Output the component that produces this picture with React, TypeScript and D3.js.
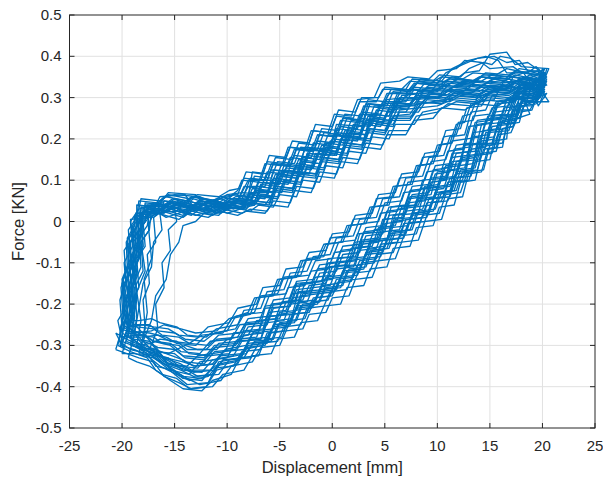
import { useMemo } from 'react';
import * as d3 from 'd3';

// Force–displacement hysteresis, cycles (x in mm, y in KN), flat [x,y,x,y,...]
const cycle1 = [-20.0,-0.27, -19.4,-0.20, -19.6,-0.14, -18.9,-0.09, -19.0,-0.03, -18.3,0.0, -18.2,0.035, -16.4,0.03, -15.6,0.045, -13.6,0.03, -12.8,0.045, -10.8,0.035, -9.8,0.05, -8.2,0.045, -7.6,0.08, -6.0,0.075, -5.4,0.115, -3.8,0.11, -3.2,0.15, -1.6,0.145, -1.0,0.185, 0.6,0.18, 1.2,0.22, 2.8,0.215, 3.4,0.255, 5.0,0.25, 5.6,0.285, 7.4,0.285, 8.2,0.315, 10.4,0.31, 11.4,0.325, 13.6,0.32, 14.6,0.335, 16.8,0.33, 17.8,0.345, 20.0,0.335,
  19.2,0.31, 17.6,0.31, 17.0,0.27, 15.4,0.265, 14.8,0.22, 13.4,0.215, 12.8,0.15, 11.4,0.145, 10.8,0.10, 9.4,0.095, 8.8,0.05, 7.2,0.045, 6.6,0.0, 5.0,-0.005, 4.4,-0.05, 2.8,-0.055, 2.2,-0.095, 0.6,-0.10, 0.0,-0.14, -1.6,-0.145, -2.2,-0.18, -3.8,-0.185, -4.4,-0.225, -6.0,-0.23, -6.6,-0.27, -8.4,-0.275, -9.2,-0.31, -11.2,-0.315, -12.2,-0.345, -14.0,-0.34, -15.0,-0.32, -16.6,-0.315, -17.4,-0.29, -19.0,-0.285, -20.0,-0.27];
const cycle2 = [-19.5,-0.25, -19.0,-0.19, -19.2,-0.12, -18.5,-0.07, -18.6,-0.01, -17.9,0.02, -17.8,0.045, -16.0,0.04, -15.2,0.055, -13.2,0.04, -12.4,0.055, -10.4,0.045, -9.4,0.065, -8.0,0.06, -7.6,0.12, -6.0,0.115, -5.4,0.155, -3.8,0.15, -3.2,0.19, -1.6,0.185, -1.0,0.225, 0.6,0.22, 1.2,0.26, 2.8,0.255, 3.4,0.295, 5.0,0.29, 5.6,0.32, 7.4,0.315, 8.2,0.34, 10.4,0.335, 11.4,0.35, 13.6,0.34, 14.6,0.36, 16.8,0.355, 17.8,0.37, 20.3,0.36,
  19.6,0.33, 18.0,0.335, 17.4,0.295, 15.8,0.29, 15.2,0.25, 13.8,0.245, 13.2,0.19, 11.8,0.185, 11.2,0.14, 9.8,0.135, 9.2,0.09, 7.6,0.085, 7.0,0.04, 5.4,0.035, 4.8,-0.01, 3.2,-0.015, 2.6,-0.055, 1.0,-0.06, 0.4,-0.10, -1.2,-0.105, -1.8,-0.14, -3.4,-0.145, -4.0,-0.185, -5.6,-0.19, -6.2,-0.23, -8.0,-0.235, -8.8,-0.27, -10.8,-0.275, -11.8,-0.30, -13.6,-0.295, -14.6,-0.28, -16.2,-0.275, -17.0,-0.26, -18.6,-0.255, -19.5,-0.25];
const cycle3 = [-20.3,-0.29, -19.8,-0.22, -20.0,-0.15, -19.4,-0.10, -19.5,-0.04, -18.8,-0.01, -18.7,0.02, -17.0,0.015, -16.2,0.03, -14.2,0.015, -13.4,0.03, -11.4,0.02, -10.4,0.035, -8.6,0.03, -8.0,0.045, -6.4,0.04, -5.4,0.075, -3.8,0.07, -3.2,0.11, -1.6,0.105, -1.0,0.145, 0.6,0.14, 1.2,0.18, 2.8,0.175, 3.4,0.215, 5.0,0.21, 5.6,0.245, 7.4,0.245, 8.2,0.275, 10.0,0.28, 11.4,0.295, 13.6,0.29, 14.6,0.305, 16.8,0.30, 17.8,0.315, 19.8,0.305,
  19.0,0.28, 17.4,0.28, 16.8,0.235, 15.2,0.23, 14.6,0.18, 13.2,0.175, 12.6,0.11, 11.2,0.105, 10.6,0.06, 9.2,0.055, 8.6,0.01, 7.0,0.005, 6.4,-0.04, 4.8,-0.045, 4.2,-0.09, 2.6,-0.095, 2.0,-0.135, 0.4,-0.14, -0.2,-0.18, -1.8,-0.185, -2.4,-0.22, -4.0,-0.225, -4.6,-0.265, -6.2,-0.27, -6.8,-0.31, -8.6,-0.315, -9.4,-0.35, -11.4,-0.355, -12.4,-0.385, -14.2,-0.38, -15.2,-0.36, -16.8,-0.35, -17.6,-0.32, -19.2,-0.31, -20.3,-0.29];
const cycle4 = [-18.6,-0.30, -18.2,-0.24, -18.6,-0.17, -17.8,-0.12, -18.2,-0.05, -17.4,-0.02, -17.6,0.03, -15.6,0.025, -14.8,0.04, -12.8,0.03, -12.0,0.045, -10.0,0.03, -9.0,0.05, -7.4,0.045, -6.8,0.09, -5.2,0.085, -4.6,0.125, -3.0,0.12, -2.4,0.16, -0.8,0.155, -0.2,0.195, 1.4,0.19, 2.0,0.235, 3.6,0.23, 4.2,0.27, 5.8,0.265, 6.4,0.30, 8.2,0.30, 9.0,0.325, 11.2,0.32, 12.2,0.335, 14.4,0.33, 15.4,0.345, 17.6,0.335, 18.6,0.35, 20.4,0.34,
  19.8,0.30, 18.4,0.29, 17.8,0.25, 16.2,0.245, 15.6,0.19, 14.2,0.185, 13.6,0.13, 12.2,0.125, 11.6,0.075, 10.2,0.07, 9.6,0.025, 8.0,0.02, 7.4,-0.02, 5.8,-0.025, 5.2,-0.065, 3.6,-0.07, 3.0,-0.115, 1.4,-0.12, 0.8,-0.16, -0.8,-0.165, -1.4,-0.20, -3.0,-0.205, -3.6,-0.245, -5.2,-0.25, -5.8,-0.29, -7.6,-0.295, -8.4,-0.33, -10.4,-0.335, -11.4,-0.37, -13.2,-0.375, -14.4,-0.36, -16.0,-0.345, -16.8,-0.325, -18.6,-0.30];
const cycle5 = [-19.8,-0.26, -19.3,-0.19, -19.5,-0.12, -18.8,-0.07, -19.0,-0.01, -18.2,0.01, -18.0,0.025, -16.2,0.02, -15.4,0.03, -13.4,0.015, -12.6,0.03, -10.6,0.02, -9.6,0.035, -7.8,0.025, -7.0,0.04, -5.6,0.035, -5.0,0.065, -3.4,0.06, -2.8,0.10, -1.2,0.095, -0.6,0.135, 1.0,0.13, 1.6,0.17, 3.2,0.165, 3.8,0.205, 5.4,0.20, 6.0,0.235, 7.8,0.235, 8.6,0.265, 10.6,0.275, 11.8,0.29, 13.8,0.285, 14.8,0.30, 17.0,0.295, 18.0,0.31, 19.6,0.30,
  19.2,0.32, 17.8,0.33, 17.2,0.30, 15.6,0.29, 15.0,0.26, 13.4,0.255, 12.8,0.20, 11.4,0.195, 10.8,0.15, 9.4,0.145, 8.8,0.10, 7.2,0.095, 6.6,0.05, 5.0,0.045, 4.4,0.0, 2.8,-0.005, 2.2,-0.045, 0.6,-0.05, 0.0,-0.09, -1.6,-0.095, -2.2,-0.13, -3.8,-0.135, -4.4,-0.175, -6.0,-0.18, -6.6,-0.22, -8.4,-0.225, -9.2,-0.26, -11.2,-0.27, -12.2,-0.29, -14.0,-0.285, -15.0,-0.27, -16.6,-0.265, -17.4,-0.25, -19.0,-0.25, -19.8,-0.26];
const cycle6 = [-20.2,-0.28, -19.8,-0.21, -20.0,-0.14, -19.2,-0.09, -19.4,-0.02, -18.6,0.01, -18.4,0.05, -16.6,0.045, -15.8,0.06, -13.8,0.05, -13.0,0.06, -11.0,0.05, -10.0,0.065, -8.6,0.07, -8.0,0.10, -6.4,0.10, -5.8,0.14, -4.2,0.135, -3.6,0.175, -2.0,0.17, -1.4,0.21, 0.2,0.205, 0.8,0.245, 2.4,0.24, 3.0,0.28, 4.6,0.275, 5.2,0.31, 7.0,0.31, 7.8,0.335, 9.8,0.33, 10.8,0.36, 12.4,0.38, 13.8,0.395, 15.4,0.40, 16.6,0.385, 17.8,0.39, 18.6,0.365, 20.0,0.355,
  19.4,0.32, 18.0,0.325, 17.4,0.29, 15.8,0.285, 15.2,0.24, 13.8,0.235, 13.2,0.17, 11.8,0.165, 11.2,0.12, 9.8,0.115, 9.2,0.07, 7.6,0.065, 7.0,0.02, 5.4,0.015, 4.8,-0.03, 3.2,-0.035, 2.6,-0.075, 1.0,-0.08, 0.4,-0.12, -1.2,-0.125, -1.8,-0.16, -3.4,-0.165, -4.0,-0.205, -5.6,-0.21, -6.2,-0.25, -8.0,-0.255, -8.8,-0.29, -10.8,-0.295, -11.8,-0.325, -13.6,-0.32, -14.6,-0.30, -16.2,-0.295, -17.0,-0.28, -18.6,-0.275, -20.2,-0.28];
const cycle7 = [-19.2,-0.30, -18.8,-0.23, -19.0,-0.16, -18.2,-0.11, -18.4,-0.04, -17.6,-0.01, -17.4,0.02, -16.2,0.05, -15.6,0.07, -13.0,0.065, -12.2,0.04, -10.2,0.03, -9.2,0.045, -7.4,0.04, -6.8,0.06, -5.2,0.055, -4.6,0.095, -3.0,0.09, -2.4,0.13, -0.8,0.125, -0.2,0.165, 1.4,0.16, 2.0,0.20, 3.6,0.195, 4.2,0.235, 5.8,0.23, 6.4,0.265, 8.2,0.265, 9.0,0.295, 11.2,0.29, 12.2,0.305, 14.4,0.30, 15.4,0.315, 17.6,0.31, 18.6,0.325, 20.2,0.315,
  19.8,0.29, 18.4,0.29, 17.8,0.25, 16.2,0.245, 15.6,0.20, 14.2,0.195, 13.6,0.155, 12.2,0.15, 11.6,0.105, 10.2,0.10, 9.6,0.055, 8.0,0.05, 7.4,0.005, 5.8,0.0, 5.2,-0.045, 3.6,-0.05, 3.0,-0.09, 1.4,-0.095, 0.8,-0.135, -0.8,-0.14, -1.4,-0.175, -3.0,-0.18, -3.6,-0.22, -5.2,-0.225, -5.8,-0.265, -7.6,-0.27, -8.4,-0.31, -10.4,-0.315, -11.4,-0.345, -13.2,-0.35, -14.2,-0.335, -15.8,-0.32, -16.8,-0.31, -18.2,-0.305, -19.2,-0.30];
const cycle8 = [-19.0,-0.24, -18.6,-0.17, -18.8,-0.11, -18.0,-0.06, -18.2,0.0, -17.4,0.02, -17.2,0.04, -15.4,0.035, -14.6,0.05, -12.6,0.035, -11.8,0.05, -9.8,0.04, -8.8,0.055, -7.2,0.05, -6.6,0.095, -5.0,0.09, -4.4,0.13, -2.8,0.125, -2.2,0.165, -0.6,0.16, 0.0,0.20, 1.6,0.195, 2.2,0.24, 3.8,0.235, 4.4,0.275, 6.0,0.27, 6.6,0.305, 8.4,0.31, 9.2,0.33, 11.4,0.325, 12.4,0.34, 14.6,0.335, 15.6,0.35, 17.8,0.34, 18.8,0.355, 19.8,0.345,
  19.0,0.335, 17.4,0.34, 16.8,0.31, 15.2,0.305, 14.6,0.27, 13.2,0.265, 12.6,0.21, 11.2,0.205, 10.6,0.16, 9.2,0.155, 8.6,0.11, 7.0,0.105, 6.4,0.06, 4.8,0.055, 4.2,0.01, 2.6,0.005, 2.0,-0.035, 0.4,-0.04, -0.2,-0.08, -1.8,-0.085, -2.4,-0.12, -4.0,-0.125, -4.6,-0.165, -6.2,-0.17, -6.8,-0.21, -8.4,-0.215, -9.0,-0.25, -11.0,-0.26, -12.0,-0.28, -13.8,-0.275, -14.8,-0.255, -16.4,-0.245, -17.2,-0.235, -18.4,-0.24, -19.0,-0.24];
const cycle9 = [-20.4,-0.30, -19.9,-0.23, -20.1,-0.16, -19.5,-0.11, -19.6,-0.05, -18.9,-0.02, -18.8,0.015, -17.0,0.01, -16.2,0.025, -14.2,0.01, -13.4,0.025, -11.4,0.015, -10.4,0.03, -8.6,0.02, -7.8,0.03, -6.2,0.025, -5.6,0.05, -4.0,0.045, -3.4,0.085, -1.8,0.08, -1.2,0.12, 0.4,0.115, 1.0,0.155, 2.6,0.15, 3.2,0.19, 4.8,0.185, 5.4,0.22, 7.2,0.22, 8.0,0.255, 10.0,0.265, 11.0,0.285, 13.2,0.28, 14.2,0.295, 16.4,0.29, 17.4,0.305, 19.4,0.295,
  18.8,0.27, 17.2,0.27, 16.6,0.225, 15.0,0.22, 14.4,0.165, 13.0,0.16, 12.4,0.10, 11.0,0.095, 10.4,0.05, 9.0,0.045, 8.4,0.0, 6.8,-0.005, 6.2,-0.05, 4.6,-0.055, 4.0,-0.10, 2.4,-0.105, 1.8,-0.145, 0.2,-0.15, -0.4,-0.19, -2.0,-0.195, -2.6,-0.235, -4.2,-0.24, -4.8,-0.28, -6.4,-0.285, -7.0,-0.325, -8.8,-0.33, -9.6,-0.37, -11.4,-0.385, -12.4,-0.41, -14.2,-0.405, -15.4,-0.385, -16.8,-0.36, -17.6,-0.33, -19.2,-0.315, -20.4,-0.30];
const cycle10 = [-19.6,-0.27, -19.2,-0.20, -19.4,-0.13, -18.6,-0.08, -18.8,-0.02, -18.0,0.01, -17.8,0.04, -16.0,0.035, -15.2,0.05, -13.2,0.035, -12.4,0.05, -10.4,0.04, -9.6,0.055, -9.0,0.05, -8.4,0.085, -6.8,0.08, -6.2,0.12, -4.6,0.115, -4.0,0.155, -2.4,0.15, -1.8,0.19, -0.2,0.185, 0.4,0.225, 2.0,0.22, 2.6,0.26, 4.2,0.255, 4.8,0.29, 6.6,0.29, 7.4,0.32, 9.6,0.315, 10.6,0.33, 12.8,0.325, 13.8,0.34, 16.0,0.335, 17.0,0.35, 19.2,0.34, 20.2,0.345,
  19.0,0.315, 17.4,0.315, 16.8,0.28, 15.2,0.275, 14.6,0.235, 13.0,0.23, 12.4,0.175, 11.0,0.17, 10.4,0.125, 9.0,0.12, 8.4,0.075, 6.8,0.07, 6.2,0.025, 4.6,0.02, 4.0,-0.025, 2.4,-0.03, 1.8,-0.07, 0.2,-0.075, -0.4,-0.115, -2.0,-0.12, -2.6,-0.155, -4.2,-0.16, -4.8,-0.20, -6.4,-0.205, -7.0,-0.245, -8.8,-0.25, -9.6,-0.285, -11.6,-0.29, -12.6,-0.32, -14.4,-0.315, -15.4,-0.295, -17.0,-0.29, -17.8,-0.275, -19.6,-0.27];
const cycle11 = [-19.4,-0.28, -19.0,-0.21, -19.2,-0.14, -18.4,-0.09, -18.6,-0.03, -17.8,0.0, -17.6,0.04, -15.8,0.04, -15.0,0.055, -13.0,0.045, -12.2,0.055, -10.2,0.045, -9.2,0.06, -8.0,0.065, -7.4,0.11, -5.8,0.105, -5.2,0.145, -3.6,0.14, -3.0,0.18, -1.4,0.175, -0.8,0.215, 0.8,0.21, 1.4,0.25, 3.0,0.245, 3.6,0.285, 5.2,0.28, 5.8,0.315, 7.6,0.32, 8.4,0.345, 10.4,0.34, 11.4,0.37, 13.0,0.39, 14.6,0.40, 15.8,0.39, 16.6,0.36, 18.2,0.36, 19.0,0.33, 19.6,0.28, 20.4,0.31,
  19.4,0.30, 18.2,0.295, 17.6,0.26, 16.0,0.255, 15.4,0.205, 14.0,0.20, 13.4,0.14, 12.0,0.135, 11.4,0.09, 10.0,0.085, 9.4,0.04, 7.8,0.035, 7.2,-0.01, 5.6,-0.015, 5.0,-0.06, 3.4,-0.065, 2.8,-0.105, 1.2,-0.11, 0.6,-0.15, -1.0,-0.155, -1.6,-0.19, -3.2,-0.195, -3.8,-0.235, -5.4,-0.24, -6.0,-0.28, -7.8,-0.285, -8.6,-0.32, -10.6,-0.325, -11.6,-0.36, -13.4,-0.36, -14.4,-0.345, -16.0,-0.33, -16.8,-0.31, -18.4,-0.295, -19.4,-0.28];
const cycle12 = [-18.0,-0.29, -17.2,-0.24, -16.8,-0.18, -15.8,-0.14, -15.4,-0.08, -14.6,-0.05, -14.2,-0.01, -13.0,0.0, -12.2,0.02, -10.8,0.015, -10.0,0.035, -8.2,0.03, -7.4,0.05, -5.8,0.045, -5.2,0.085, -3.6,0.08, -3.0,0.12, -1.4,0.115, -0.8,0.155, 0.8,0.15, 1.4,0.19, 3.0,0.185, 3.6,0.225, 5.2,0.22, 5.8,0.255, 7.6,0.255, 8.4,0.285, 10.6,0.295, 11.6,0.31, 13.8,0.305, 14.8,0.32, 17.0,0.315, 18.0,0.33, 19.8,0.32,
  19.2,0.30, 17.6,0.30, 17.0,0.26, 15.4,0.255, 14.8,0.21, 13.4,0.205, 12.8,0.16, 11.4,0.155, 10.8,0.11, 9.4,0.105, 8.8,0.06, 7.2,0.055, 6.6,0.01, 5.0,0.005, 4.4,-0.04, 2.8,-0.045, 2.2,-0.085, 0.6,-0.09, 0.0,-0.13, -1.6,-0.135, -2.2,-0.17, -3.8,-0.175, -4.4,-0.215, -6.0,-0.22, -6.6,-0.26, -8.4,-0.265, -9.2,-0.30, -11.2,-0.305, -12.2,-0.335, -14.0,-0.33, -15.0,-0.31, -16.6,-0.305, -17.4,-0.295, -18.0,-0.29];
const cycle13 = [-19.8,-0.24, -20.1,-0.30, -19.4,-0.26, -19.6,-0.18, -18.9,-0.15, -19.1,-0.08, -18.4,-0.05, -18.5,0.01, -17.7,0.03, -16.0,0.025, -15.0,0.04, -13.0,0.03, -12.0,0.045, -10.0,0.035, -9.0,0.05, -7.6,0.055, -7.0,0.095, -5.2,0.09, -4.6,0.135, -2.8,0.13, -2.2,0.175, -0.4,0.17, 0.2,0.21, 2.0,0.205, 2.6,0.25, 4.4,0.245, 5.0,0.285, 7.0,0.29, 7.8,0.32, 10.0,0.315, 11.0,0.335, 13.2,0.33, 14.2,0.35, 16.4,0.345, 17.4,0.36, 19.6,0.365, 20.2,0.30, 19.8,0.35, 20.4,0.33,
  18.6,0.32, 17.8,0.31, 17.6,0.26, 16.8,0.255, 16.6,0.20, 15.4,0.195, 15.0,0.15, 13.6,0.145, 13.0,0.10, 11.6,0.095, 11.0,0.05, 9.4,0.045, 8.8,0.0, 7.2,-0.005, 6.6,-0.05, 5.0,-0.055, 4.4,-0.095, 2.8,-0.10, 2.2,-0.14, 0.6,-0.145, 0.0,-0.18, -1.6,-0.185, -2.2,-0.22, -3.8,-0.225, -4.4,-0.265, -6.0,-0.27, -6.6,-0.30, -8.4,-0.31, -9.2,-0.34, -11.2,-0.35, -12.4,-0.38, -14.2,-0.375, -15.6,-0.35, -17.0,-0.33, -18.0,-0.30, -19.8,-0.24];
const cycle14 = [-20.0,-0.22, -19.6,-0.16, -19.8,-0.10, -19.0,-0.06, -19.2,0.0, -18.4,0.03, -18.2,0.055, -16.4,0.05, -15.6,0.065, -13.6,0.055, -12.8,0.065, -10.8,0.06, -9.8,0.075, -8.8,0.08, -8.2,0.12, -6.6,0.115, -6.0,0.16, -4.4,0.155, -3.8,0.195, -2.2,0.19, -1.6,0.235, 0.0,0.23, 0.6,0.27, 2.2,0.265, 2.8,0.30, 4.4,0.30, 5.0,0.325, 7.0,0.32, 7.6,0.345, 9.6,0.34, 10.2,0.355, 12.2,0.35, 13.0,0.37, 14.4,0.385, 15.2,0.38, 16.0,0.40, 17.0,0.395, 18.0,0.375, 20.6,0.37, 19.8,0.32, 20.6,0.29,
  19.2,0.29, 18.2,0.28, 17.8,0.24, 16.6,0.235, 16.2,0.18, 14.8,0.175, 14.2,0.12, 12.8,0.115, 12.2,0.07, 10.8,0.065, 10.2,0.02, 8.6,0.015, 8.0,-0.03, 6.4,-0.035, 5.8,-0.075, 4.2,-0.08, 3.6,-0.12, 2.0,-0.125, 1.4,-0.165, -0.2,-0.17, -0.8,-0.205, -2.4,-0.21, -3.0,-0.25, -4.6,-0.255, -5.2,-0.29, -7.0,-0.295, -7.8,-0.33, -9.8,-0.335, -10.8,-0.37, -12.8,-0.375, -13.8,-0.36, -15.6,-0.345, -16.6,-0.31, -18.4,-0.26, -20.0,-0.22];
const cycle15 = [-18.8,-0.27, -18.4,-0.21, -18.0,-0.15, -17.2,-0.11, -17.0,-0.05, -16.2,-0.02, -16.4,0.02, -15.0,0.035, -14.0,0.025, -12.2,0.04, -11.2,0.025, -9.4,0.04, -8.6,0.035, -8.0,0.06, -6.4,0.055, -5.8,0.095, -4.2,0.09, -3.6,0.13, -2.0,0.125, -1.4,0.165, 0.2,0.16, 0.8,0.20, 2.4,0.195, 3.0,0.235, 4.6,0.23, 5.2,0.265, 7.0,0.265, 7.8,0.295, 10.0,0.30, 11.0,0.315, 13.2,0.31, 14.2,0.325, 16.4,0.32, 17.4,0.335, 19.2,0.325, 19.8,0.355, 20.2,0.335,
  18.8,0.33, 17.2,0.335, 16.4,0.32, 15.0,0.315, 14.0,0.29, 13.2,0.285, 12.6,0.24, 11.8,0.235, 11.2,0.19, 10.0,0.185, 9.4,0.14, 8.0,0.135, 7.4,0.09, 5.8,0.085, 5.2,0.04, 3.6,0.035, 3.0,-0.005, 1.4,-0.01, 0.8,-0.05, -0.8,-0.055, -1.4,-0.09, -3.0,-0.095, -3.6,-0.135, -5.2,-0.14, -5.8,-0.18, -7.4,-0.185, -8.0,-0.22, -9.8,-0.235, -11.0,-0.265, -13.0,-0.27, -14.4,-0.26, -16.0,-0.25, -17.2,-0.265, -18.8,-0.27];
const cycle16 = [-20.6,-0.31, -20.0,-0.26, -20.2,-0.19, -19.6,-0.14, -19.8,-0.07, -19.0,-0.04, -19.2,0.005, -17.4,0.01, -16.6,0.02, -14.6,0.005, -13.8,0.02, -11.8,0.01, -10.8,0.025, -9.0,0.015, -8.2,0.025, -6.4,0.02, -5.8,0.04, -4.2,0.035, -3.6,0.075, -2.0,0.07, -1.4,0.11, 0.2,0.105, 0.8,0.145, 2.4,0.14, 3.0,0.18, 4.6,0.175, 5.2,0.21, 7.0,0.21, 7.8,0.245, 9.6,0.25, 10.4,0.275, 12.6,0.27, 13.6,0.285, 15.8,0.28, 16.8,0.30, 19.0,0.29, 19.6,0.31,
  19.0,0.27, 17.8,0.265, 17.2,0.23, 16.2,0.225, 15.6,0.17, 14.2,0.165, 13.6,0.10, 12.2,0.095, 11.6,0.04, 10.2,0.035, 9.6,-0.01, 8.0,-0.015, 7.4,-0.06, 5.8,-0.065, 5.2,-0.11, 3.6,-0.115, 3.0,-0.155, 1.4,-0.16, 0.8,-0.20, -0.8,-0.205, -1.4,-0.24, -3.0,-0.245, -3.6,-0.28, -5.2,-0.285, -5.8,-0.32, -7.6,-0.325, -8.4,-0.36, -10.4,-0.37, -11.4,-0.40, -13.4,-0.405, -14.6,-0.39, -16.0,-0.375, -17.0,-0.34, -18.4,-0.33, -20.6,-0.31];
const cycle17 = [-19.2,-0.28, -18.6,-0.19, -18.9,-0.10, -18.0,-0.06, -18.2,0.02, -16.0,0.03, -15.4,0.045, -12.6,0.035, -11.8,0.05, -9.2,0.04, -8.6,0.07, -6.2,0.065, -5.6,0.125, -3.2,0.12, -2.6,0.18, -0.2,0.175, 0.4,0.235, 2.8,0.23, 3.4,0.285, 5.8,0.28, 6.6,0.32, 9.4,0.315, 10.2,0.34, 13.0,0.335, 14.0,0.35, 16.8,0.345, 17.8,0.33, 20.0,0.34,
  19.4,0.29, 17.6,0.285, 16.8,0.22, 14.6,0.215, 14.0,0.15, 11.8,0.145, 11.2,0.085, 8.8,0.08, 8.2,0.02, 5.8,0.015, 5.2,-0.045, 2.8,-0.05, 2.2,-0.105, -0.2,-0.11, -0.8,-0.165, -3.2,-0.17, -3.8,-0.225, -6.2,-0.23, -6.8,-0.285, -9.2,-0.29, -10.0,-0.33, -12.6,-0.34, -13.6,-0.37, -15.4,-0.36, -16.4,-0.32, -18.0,-0.305, -19.2,-0.28];
const cycle18 = [-17.4,-0.31, -16.6,-0.26, -16.8,-0.20, -16.0,-0.16, -16.2,-0.10, -15.4,-0.07, -15.6,-0.02, -14.8,0.0, -15.0,0.03, -13.6,0.05, -12.6,0.04, -10.6,0.055, -9.6,0.045, -8.4,0.065, -7.8,0.105, -6.2,0.10, -5.6,0.14, -4.0,0.135, -3.4,0.175, -1.8,0.17, -1.2,0.21, 0.4,0.205, 1.0,0.25, 2.6,0.245, 3.2,0.285, 4.8,0.28, 5.4,0.31, 7.2,0.315, 8.0,0.335, 10.2,0.33, 11.2,0.345, 13.4,0.34, 14.4,0.355, 16.6,0.35, 17.6,0.365, 19.4,0.355, 20.2,0.37,
  19.8,0.34, 18.6,0.345, 18.0,0.30, 16.6,0.295, 16.0,0.25, 14.6,0.245, 14.0,0.19, 12.6,0.185, 12.0,0.135, 10.6,0.13, 10.0,0.085, 8.4,0.08, 7.8,0.035, 6.2,0.03, 5.6,-0.015, 4.0,-0.02, 3.4,-0.06, 1.8,-0.065, 1.2,-0.105, -0.4,-0.11, -1.0,-0.145, -2.6,-0.15, -3.2,-0.19, -4.8,-0.195, -5.4,-0.235, -7.2,-0.24, -8.0,-0.275, -10.0,-0.285, -11.0,-0.31, -12.8,-0.31, -14.0,-0.30, -15.6,-0.32, -16.6,-0.315, -17.4,-0.31];
const cycle19 = [-20.0,-0.32, -19.4,-0.27, -19.8,-0.21, -19.0,-0.17, -19.3,-0.11, -18.6,-0.08, -18.8,-0.02, -18.0,0.02, -17.0,0.045, -15.4,0.04, -14.4,0.025, -12.4,0.04, -11.4,0.03, -9.4,0.045, -8.4,0.04, -7.8,0.07, -6.2,0.07, -5.6,0.105, -4.0,0.10, -3.4,0.14, -1.8,0.135, -1.2,0.175, 0.4,0.17, 1.0,0.21, 2.6,0.205, 3.2,0.245, 4.8,0.24, 5.4,0.275, 7.2,0.28, 8.0,0.305, 10.2,0.30, 11.2,0.32, 13.4,0.315, 14.4,0.33, 16.6,0.325, 17.6,0.34, 19.4,0.33, 20.0,0.37, 19.6,0.30, 20.4,0.345,
  19.4,0.285, 18.0,0.28, 17.4,0.24, 15.8,0.235, 15.2,0.185, 13.8,0.18, 13.2,0.125, 11.8,0.12, 11.2,0.075, 9.8,0.07, 9.2,0.025, 7.6,0.02, 7.0,-0.025, 5.4,-0.03, 4.8,-0.07, 3.2,-0.075, 2.6,-0.115, 1.0,-0.12, 0.4,-0.16, -1.2,-0.165, -1.8,-0.20, -3.4,-0.205, -4.0,-0.245, -5.6,-0.25, -6.2,-0.29, -8.0,-0.295, -8.8,-0.33, -10.8,-0.34, -11.8,-0.39, -13.8,-0.395, -15.0,-0.37, -16.2,-0.345, -17.0,-0.33, -18.8,-0.32, -20.0,-0.32];
const cycle20 = [-19.6,-0.29, -19.0,-0.23, -19.4,-0.17, -18.6,-0.13, -18.8,-0.06, -18.0,-0.03, -18.1,0.03, -17.0,0.04, -16.2,0.03, -14.4,0.045, -13.4,0.035, -11.6,0.05, -10.6,0.04, -8.8,0.055, -7.6,0.06, -7.0,0.10, -5.4,0.10, -4.8,0.14, -3.2,0.135, -2.6,0.175, -1.0,0.17, -0.4,0.21, 1.2,0.205, 1.8,0.245, 3.4,0.24, 4.0,0.28, 5.6,0.275, 6.2,0.31, 8.0,0.31, 8.8,0.335, 11.0,0.33, 12.0,0.345, 14.2,0.34, 15.2,0.355, 17.2,0.35, 18.2,0.36, 20.0,0.35,
  19.2,0.33, 17.8,0.33, 17.2,0.29, 15.6,0.285, 15.0,0.245, 13.6,0.24, 13.0,0.18, 11.6,0.175, 11.0,0.13, 9.6,0.125, 9.0,0.08, 7.4,0.075, 6.8,0.03, 5.2,0.025, 4.6,-0.02, 3.0,-0.025, 2.4,-0.065, 0.8,-0.07, 0.2,-0.11, -1.4,-0.115, -2.0,-0.15, -3.6,-0.155, -4.2,-0.195, -5.8,-0.20, -6.4,-0.24, -8.2,-0.245, -9.0,-0.28, -11.0,-0.285, -12.0,-0.31, -13.8,-0.31, -14.8,-0.29, -16.4,-0.285, -17.2,-0.295, -18.6,-0.30, -19.6,-0.29];
const cycle21 = [-20.2,-0.26, -19.6,-0.21, -19.8,-0.15, -19.1,-0.11, -19.2,-0.05, -18.4,-0.02, -18.6,0.015, -16.8,0.02, -16.0,0.035, -14.0,0.02, -13.2,0.035, -11.2,0.025, -10.2,0.04, -8.4,0.035, -7.6,0.045, -6.0,0.04, -5.4,0.08, -3.8,0.075, -3.2,0.115, -1.6,0.11, -1.0,0.15, 0.6,0.145, 1.2,0.185, 2.8,0.18, 3.4,0.22, 5.0,0.215, 5.6,0.25, 7.4,0.25, 8.2,0.285, 10.4,0.29, 11.4,0.30, 13.6,0.295, 14.6,0.31, 16.8,0.305, 17.8,0.32, 19.8,0.31, 20.2,0.34,
  19.4,0.345, 18.8,0.32, 18.4,0.28, 17.6,0.275, 17.2,0.23, 16.2,0.225, 15.6,0.18, 14.4,0.175, 13.8,0.125, 12.4,0.12, 11.8,0.075, 10.4,0.07, 9.8,0.03, 8.2,0.025, 7.6,-0.02, 6.0,-0.025, 5.4,-0.065, 3.8,-0.07, 3.2,-0.11, 1.6,-0.115, 1.0,-0.155, -0.6,-0.16, -1.2,-0.195, -2.8,-0.20, -3.4,-0.24, -5.0,-0.245, -5.6,-0.285, -7.4,-0.29, -8.2,-0.32, -10.2,-0.33, -11.2,-0.36, -13.2,-0.365, -14.4,-0.35, -16.0,-0.34, -17.6,-0.30, -18.8,-0.27, -20.2,-0.26];
const cycle22 = [-19.2,-0.255, -18.8,-0.19, -19.0,-0.12, -18.2,-0.08, -18.4,-0.02, -17.6,0.005, -17.5,0.03, -15.6,0.025, -14.8,0.045, -12.8,0.03, -12.0,0.045, -10.0,0.035, -9.0,0.05, -7.8,0.05, -7.2,0.085, -5.6,0.08, -5.0,0.12, -3.4,0.115, -2.8,0.155, -1.2,0.15, -0.6,0.19, 1.0,0.185, 1.6,0.225, 3.2,0.22, 3.8,0.26, 5.4,0.255, 6.0,0.29, 7.8,0.295, 8.6,0.32, 10.8,0.315, 11.8,0.33, 14.0,0.325, 15.0,0.34, 17.2,0.335, 18.2,0.35, 19.6,0.34,
  18.8,0.345, 17.2,0.35, 16.6,0.32, 15.0,0.315, 14.2,0.28, 12.8,0.275, 12.2,0.225, 10.8,0.22, 10.2,0.17, 8.8,0.165, 8.2,0.12, 6.6,0.115, 6.0,0.07, 4.4,0.065, 3.8,0.02, 2.2,0.015, 1.6,-0.025, 0.0,-0.03, -0.6,-0.07, -2.2,-0.075, -2.8,-0.11, -4.4,-0.115, -5.0,-0.155, -6.6,-0.16, -7.2,-0.20, -9.0,-0.21, -9.8,-0.245, -11.8,-0.255, -12.8,-0.28, -14.6,-0.275, -15.6,-0.26, -17.0,-0.255, -18.0,-0.25, -19.2,-0.255];
const cycle23 = [-20.0,-0.25, -19.2,-0.22, -19.5,-0.16, -18.7,-0.12, -19.0,-0.05, -18.2,-0.03, -18.4,0.03, -16.6,0.045, -15.4,0.03, -13.6,0.04, -12.4,0.025, -10.6,0.04, -9.4,0.03, -7.4,0.05, -6.8,0.075, -4.8,0.07, -4.2,0.12, -2.2,0.115, -1.6,0.165, 0.4,0.16, 1.0,0.205, 3.0,0.20, 3.6,0.245, 5.6,0.24, 6.2,0.275, 8.4,0.285, 9.4,0.31, 11.8,0.305, 12.8,0.32, 15.2,0.315, 16.2,0.33, 18.6,0.32, 19.4,0.345, 20.2,0.325,
  19.6,0.315, 17.8,0.30, 17.2,0.255, 15.2,0.25, 14.6,0.19, 12.6,0.185, 12.0,0.125, 10.0,0.12, 9.4,0.065, 7.4,0.06, 6.8,0.01, 4.8,0.005, 4.2,-0.045, 2.2,-0.05, 1.6,-0.095, -0.4,-0.10, -1.0,-0.145, -3.0,-0.15, -3.6,-0.195, -5.6,-0.20, -6.2,-0.245, -8.2,-0.25, -9.0,-0.295, -11.2,-0.30, -12.2,-0.33, -14.2,-0.325, -15.4,-0.30, -17.0,-0.29, -18.4,-0.27, -20.0,-0.25];
const cycle24 = [-19.4,-0.33, -18.8,-0.27, -19.2,-0.20, -18.4,-0.16, -18.6,-0.09, -17.8,-0.06, -18.0,0.0, -17.2,0.02, -16.4,0.06, -14.0,0.065, -13.2,0.035, -11.2,0.025, -10.2,0.04, -8.4,0.035, -7.8,0.065, -6.2,0.06, -5.6,0.10, -4.0,0.095, -3.4,0.135, -1.8,0.13, -1.2,0.17, 0.4,0.165, 1.0,0.205, 2.6,0.20, 3.2,0.24, 4.8,0.235, 5.4,0.27, 7.2,0.275, 8.0,0.30, 10.0,0.30, 11.0,0.33, 12.6,0.36, 14.0,0.365, 15.0,0.405, 16.6,0.41, 17.4,0.38, 18.6,0.385, 20.0,0.36,
  19.8,0.31, 18.2,0.30, 18.8,0.26, 17.6,0.25, 17.0,0.215, 15.8,0.21, 15.2,0.165, 13.8,0.16, 13.2,0.11, 11.8,0.105, 11.2,0.06, 9.6,0.055, 9.0,0.01, 7.4,0.005, 6.8,-0.04, 5.2,-0.045, 4.6,-0.085, 3.0,-0.09, 2.4,-0.13, 0.8,-0.135, 0.2,-0.17, -1.4,-0.175, -2.0,-0.21, -3.6,-0.215, -4.2,-0.255, -5.8,-0.26, -6.4,-0.30, -8.2,-0.305, -9.0,-0.345, -11.0,-0.36, -12.0,-0.40, -13.6,-0.405, -14.8,-0.38, -16.2,-0.37, -17.4,-0.35, -18.6,-0.34, -19.4,-0.33];
const cycle25 = [-19.7,-0.28, -19.1,-0.22, -19.3,-0.15, -18.7,-0.11, -18.9,-0.04, -18.1,-0.01, -17.9,0.035, -16.2,0.03, -15.2,0.045, -13.4,0.035, -12.4,0.05, -10.6,0.04, -9.4,0.05, -7.8,0.05, -7.2,0.075, -5.6,0.07, -5.0,0.11, -3.4,0.105, -2.8,0.145, -1.2,0.14, -0.6,0.18, 1.0,0.175, 1.6,0.215, 3.2,0.21, 3.8,0.25, 5.4,0.245, 6.0,0.28, 7.8,0.285, 8.6,0.31, 10.8,0.305, 11.8,0.32, 14.0,0.315, 15.0,0.33, 17.2,0.325, 18.2,0.34, 19.8,0.33, 20.2,0.36,
  19.0,0.35, 17.6,0.34, 16.2,0.335, 15.4,0.295, 14.0,0.29, 13.4,0.245, 12.0,0.24, 11.4,0.19, 10.2,0.185, 9.6,0.14, 8.2,0.135, 7.6,0.09, 6.0,0.085, 5.4,0.04, 3.8,0.035, 3.2,-0.005, 1.6,-0.01, 1.0,-0.05, -0.6,-0.055, -1.2,-0.09, -2.8,-0.095, -3.4,-0.135, -5.0,-0.14, -5.6,-0.18, -7.2,-0.185, -7.8,-0.225, -9.6,-0.235, -10.4,-0.27, -12.4,-0.275, -13.6,-0.295, -15.4,-0.29, -16.6,-0.275, -18.2,-0.28, -19.7,-0.28];
const cycle26 = [-18.4,-0.32, -17.8,-0.26, -18.0,-0.19, -17.4,-0.15, -17.6,-0.08, -16.8,-0.05, -17.0,0.01, -16.2,0.03, -16.0,0.05, -14.2,0.045, -13.4,0.06, -11.4,0.05, -10.6,0.06, -9.0,0.065, -8.4,0.105, -6.8,0.10, -6.2,0.145, -4.6,0.14, -4.0,0.18, -2.4,0.175, -1.8,0.22, -0.2,0.215, 0.4,0.255, 2.0,0.25, 2.6,0.29, 4.2,0.29, 4.8,0.32, 6.6,0.32, 7.4,0.34, 9.4,0.335, 10.4,0.35, 12.4,0.345, 13.4,0.36, 15.6,0.355, 16.6,0.37, 18.6,0.36, 19.4,0.375, 20.4,0.35,
  19.6,0.32, 18.4,0.32, 17.8,0.28, 16.4,0.275, 15.8,0.225, 14.4,0.22, 13.8,0.16, 12.4,0.155, 11.8,0.11, 10.4,0.105, 9.8,0.06, 8.2,0.055, 7.6,0.01, 6.0,0.005, 5.4,-0.04, 3.8,-0.045, 3.2,-0.085, 1.6,-0.09, 1.0,-0.13, -0.6,-0.135, -1.2,-0.17, -2.8,-0.175, -3.4,-0.215, -5.0,-0.22, -5.6,-0.26, -7.4,-0.265, -8.2,-0.30, -10.2,-0.31, -11.2,-0.345, -13.0,-0.35, -14.2,-0.34, -15.8,-0.33, -17.0,-0.325, -18.4,-0.32];
const cycle27 = [-20.0,-0.29, -19.3,-0.25, -19.6,-0.19, -18.8,-0.15, -19.0,-0.08, -18.2,-0.05, -18.3,0.01, -17.4,0.035, -16.6,0.02, -14.8,0.035, -14.0,0.02, -12.0,0.035, -11.0,0.02, -9.2,0.035, -8.2,0.03, -7.6,0.05, -6.0,0.045, -5.4,0.085, -3.8,0.08, -3.2,0.12, -1.6,0.115, -1.0,0.155, 0.6,0.15, 1.2,0.19, 2.8,0.185, 3.4,0.225, 5.0,0.22, 5.6,0.255, 7.4,0.26, 8.2,0.29, 10.4,0.285, 11.4,0.305, 13.6,0.30, 14.6,0.315, 16.8,0.31, 17.8,0.325, 19.6,0.315, 20.0,0.35,
  19.2,0.34, 18.6,0.30, 17.2,0.295, 16.6,0.25, 15.2,0.245, 14.6,0.19, 13.2,0.185, 12.6,0.13, 11.2,0.125, 10.6,0.08, 9.2,0.075, 8.6,0.03, 7.0,0.025, 6.4,-0.02, 4.8,-0.025, 4.2,-0.065, 2.6,-0.07, 2.0,-0.11, 0.4,-0.115, -0.2,-0.155, -1.8,-0.16, -2.4,-0.195, -4.0,-0.20, -4.6,-0.24, -6.2,-0.245, -6.8,-0.285, -8.6,-0.29, -9.4,-0.325, -11.4,-0.335, -12.4,-0.365, -14.2,-0.36, -15.4,-0.34, -16.8,-0.32, -18.0,-0.31, -20.0,-0.29];
const cycle28 = [-20.6,-0.27, -19.8,-0.31, -20.4,-0.24, -19.7,-0.21, -19.9,-0.14, -19.2,-0.10, -19.3,-0.04, -18.6,-0.01, -18.6,0.04, -16.8,0.035, -16.0,0.05, -14.0,0.04, -13.2,0.055, -11.2,0.04, -10.2,0.055, -8.6,0.055, -8.0,0.085, -6.4,0.085, -5.8,0.125, -4.2,0.12, -3.6,0.16, -2.0,0.155, -1.4,0.195, 0.2,0.19, 0.8,0.23, 2.4,0.225, 3.0,0.265, 4.6,0.26, 5.2,0.295, 7.0,0.30, 7.8,0.325, 10.0,0.32, 11.0,0.34, 13.2,0.335, 14.2,0.35, 16.4,0.34, 17.4,0.355, 19.2,0.345, 19.8,0.30, 20.4,0.37, 20.0,0.32,
  18.6,0.305, 17.0,0.30, 16.4,0.26, 14.8,0.255, 14.2,0.205, 12.8,0.20, 12.2,0.14, 10.8,0.135, 10.2,0.09, 8.8,0.085, 8.2,0.04, 6.6,0.035, 6.0,-0.01, 4.4,-0.015, 3.8,-0.06, 2.2,-0.065, 1.6,-0.105, 0.0,-0.11, -0.6,-0.15, -2.2,-0.155, -2.8,-0.19, -4.4,-0.195, -5.0,-0.235, -6.6,-0.24, -7.2,-0.28, -9.0,-0.285, -9.8,-0.32, -11.8,-0.325, -12.8,-0.355, -14.6,-0.35, -15.6,-0.33, -17.2,-0.32, -18.2,-0.30, -19.6,-0.285, -20.6,-0.27];
const cycle29 = [-18.2,-0.31, -17.6,-0.22, -17.9,-0.14, -17.2,-0.09, -17.5,-0.01, -17.0,0.02, -14.8,0.025, -14.2,0.04, -11.6,0.03, -11.0,0.045, -8.6,0.035, -8.0,0.065, -5.8,0.06, -5.2,0.115, -3.0,0.11, -2.4,0.165, -0.2,0.16, 0.4,0.215, 2.6,0.21, 3.2,0.26, 5.4,0.255, 6.2,0.295, 8.8,0.30, 9.6,0.32, 12.4,0.315, 13.4,0.33, 16.2,0.325, 17.2,0.34, 19.8,0.33,
  19.0,0.30, 17.2,0.295, 16.4,0.24, 14.2,0.235, 13.6,0.17, 11.4,0.165, 10.8,0.105, 8.6,0.10, 8.0,0.04, 5.6,0.035, 5.0,-0.025, 2.6,-0.03, 2.0,-0.085, -0.4,-0.09, -1.0,-0.145, -3.4,-0.15, -4.0,-0.205, -6.4,-0.21, -7.0,-0.265, -9.4,-0.27, -10.2,-0.315, -12.8,-0.325, -13.8,-0.35, -15.6,-0.345, -16.6,-0.32, -18.2,-0.31];
const cycle30 = [-19.0,-0.30, -18.6,-0.23, -18.8,-0.16, -18.0,-0.12, -18.2,-0.05, -17.4,-0.02, -17.2,0.03, -16.0,0.06, -15.0,0.065, -12.6,0.06, -11.8,0.05, -9.8,0.06, -9.0,0.075, -8.6,0.10, -7.0,0.095, -6.4,0.14, -4.8,0.135, -4.2,0.18, -2.6,0.175, -2.0,0.22, -0.4,0.215, 0.2,0.26, 1.8,0.255, 2.4,0.295, 4.0,0.30, 4.6,0.335, 6.4,0.34, 7.2,0.35, 9.2,0.345, 10.0,0.365, 11.8,0.37, 12.6,0.39, 14.2,0.385, 15.0,0.37, 17.2,0.375, 18.0,0.36, 20.2,0.355,
  19.6,0.30, 18.2,0.30, 17.4,0.255, 16.8,0.25, 16.2,0.19, 15.0,0.185, 14.4,0.125, 13.0,0.12, 12.4,0.06, 11.0,0.055, 10.4,0.005, 8.8,0.0, 8.2,-0.045, 6.6,-0.05, 6.0,-0.09, 4.4,-0.095, 3.8,-0.135, 2.2,-0.14, 1.6,-0.18, 0.0,-0.185, -0.6,-0.22, -2.2,-0.225, -2.8,-0.26, -4.4,-0.265, -5.0,-0.30, -6.8,-0.305, -7.6,-0.34, -9.6,-0.35, -10.6,-0.385, -12.6,-0.395, -13.8,-0.38, -15.2,-0.36, -16.8,-0.33, -19.0,-0.30];
const cycle31 = [-19.5,-0.265, -18.9,-0.20, -19.1,-0.13, -18.4,-0.09, -18.5,-0.03, -17.8,0.0, -17.7,0.025, -16.0,0.02, -15.2,0.035, -13.2,0.025, -12.4,0.04, -10.4,0.03, -9.4,0.045, -7.8,0.045, -7.2,0.075, -5.6,0.07, -5.0,0.11, -3.4,0.105, -2.8,0.145, -1.2,0.14, -0.6,0.18, 1.0,0.175, 1.6,0.215, 3.2,0.21, 3.8,0.25, 5.4,0.245, 6.0,0.28, 7.8,0.28, 8.6,0.305, 10.8,0.30, 11.8,0.315, 14.0,0.31, 15.0,0.325, 17.2,0.32, 18.2,0.335, 20.0,0.325,
  19.2,0.32, 17.4,0.325, 16.0,0.32, 14.8,0.31, 13.8,0.30, 13.2,0.26, 12.4,0.255, 11.8,0.21, 10.6,0.205, 10.0,0.16, 8.6,0.155, 8.0,0.11, 6.4,0.105, 5.8,0.06, 4.2,0.055, 3.6,0.01, 2.0,0.005, 1.4,-0.035, -0.2,-0.04, -0.8,-0.085, -2.4,-0.09, -3.0,-0.13, -4.6,-0.135, -5.2,-0.175, -6.8,-0.18, -7.4,-0.22, -9.2,-0.23, -10.0,-0.265, -12.0,-0.275, -13.0,-0.30, -14.8,-0.295, -15.8,-0.28, -17.4,-0.27, -19.5,-0.265];
const cycle32 = [-20.2,-0.30, -19.7,-0.24, -19.9,-0.17, -19.3,-0.13, -19.4,-0.06, -18.7,-0.03, -18.6,0.02, -16.8,0.025, -15.8,0.01, -14.0,0.025, -13.0,0.015, -11.0,0.03, -10.0,0.02, -8.2,0.035, -7.4,0.04, -6.8,0.065, -5.2,0.06, -4.6,0.10, -3.0,0.095, -2.4,0.135, -0.8,0.13, -0.2,0.17, 1.4,0.165, 2.0,0.205, 3.6,0.20, 4.2,0.24, 5.8,0.235, 6.4,0.27, 8.2,0.275, 9.0,0.30, 11.2,0.295, 12.2,0.31, 14.4,0.305, 15.4,0.32, 17.6,0.315, 18.6,0.33, 20.2,0.32,
  19.6,0.295, 18.0,0.29, 17.4,0.245, 15.8,0.24, 15.2,0.19, 13.8,0.185, 13.2,0.12, 11.8,0.115, 11.2,0.07, 9.8,0.065, 9.2,0.02, 7.6,0.015, 7.0,-0.03, 5.4,-0.035, 4.8,-0.075, 3.2,-0.08, 2.6,-0.12, 1.0,-0.125, 0.4,-0.165, -1.2,-0.17, -1.8,-0.205, -3.4,-0.21, -4.0,-0.25, -5.6,-0.255, -6.2,-0.295, -8.0,-0.30, -8.8,-0.335, -10.8,-0.345, -11.8,-0.375, -13.6,-0.385, -14.8,-0.37, -16.4,-0.35, -17.6,-0.325, -18.8,-0.31, -20.2,-0.30];

const cycles = [cycle1, cycle2, cycle3, cycle4, cycle5, cycle6, cycle7, cycle8, cycle9, cycle10, cycle11, cycle12,
  cycle13, cycle14, cycle15, cycle16, cycle17, cycle18, cycle19, cycle20, cycle21, cycle22, cycle23, cycle24,
  cycle25, cycle26, cycle27, cycle28, cycle29, cycle30, cycle31, cycle32];

const xTicks = [-25, -20, -15, -10, -5, 0, 5, 10, 15, 20, 25];
const xTickLabels = ['-25', '-20', '-15', '-10', '-5', '0', '5', '10', '15', '20', '25'];
const yTicks = [-0.5, -0.4, -0.3, -0.2, -0.1, 0, 0.1, 0.2, 0.3, 0.4, 0.5];
const yTickLabels = ['-0.5', '-0.4', '-0.3', '-0.2', '-0.1', '0', '0.1', '0.2', '0.3', '0.4', '0.5'];

const W = 603;
const H = 479;
const M = { top: 15, right: 8, bottom: 51, left: 69.5 };
const FONT = '"Liberation Sans", Arial, Helvetica, sans-serif';
const AXIS = '#262626';
const LINE = '#0072BD';

function toPairs(flat) {
  const out = [];
  for (let i = 0; i < flat.length; i += 2) out.push([flat[i], flat[i + 1]]);
  return out;
}

export default function App() {
  const innerW = W - M.left - M.right;
  const innerH = H - M.top - M.bottom;

  const x = d3.scaleLinear().domain([-25, 25]).range([M.left, M.left + innerW]);
  const y = d3.scaleLinear().domain([-0.5, 0.5]).range([M.top + innerH, M.top]);

  const paths = useMemo(() => {
    const line = d3.line().x((d) => x(d[0])).y((d) => y(d[1]));
    return cycles.map((c) => line(toPairs(c)));
  }, []);

  const left = M.left;
  const right = M.left + innerW;
  const top = M.top;
  const bottom = M.top + innerH;

  return (
    <svg width={W} height={H} style={{ position: 'absolute', left: 0, top: 0, background: '#fff' }}>
      <rect x={0} y={0} width={W} height={H} fill="#fff" />

      {/* grid */}
      {xTicks.slice(1, -1).map((t) => (
        <line key={'gx' + t} x1={x(t)} x2={x(t)} y1={top} y2={bottom} stroke="#e1e1e1" strokeWidth={1} />
      ))}
      {yTicks.slice(1, -1).map((t) => (
        <line key={'gy' + t} x1={left} x2={right} y1={y(t)} y2={y(t)} stroke="#e1e1e1" strokeWidth={1} />
      ))}

      {/* data */}
      <g clipPath="url(#clip)">
        {paths.map((d, i) => (
          <path key={i} d={d} fill="none" stroke={LINE} strokeWidth={1.35} strokeLinejoin="round" />
        ))}
      </g>
      <defs>
        <clipPath id="clip">
          <rect x={left} y={top} width={innerW} height={innerH} />
        </clipPath>
      </defs>

      {/* box + ticks */}
      <rect x={left} y={top} width={innerW} height={innerH} fill="none" stroke={AXIS} strokeWidth={1} />
      {xTicks.map((t) => (
        <g key={'tx' + t}>
          <line x1={x(t)} x2={x(t)} y1={bottom} y2={bottom - 5} stroke={AXIS} />
          <line x1={x(t)} x2={x(t)} y1={top} y2={top + 5} stroke={AXIS} />
        </g>
      ))}
      {yTicks.map((t) => (
        <g key={'ty' + t}>
          <line x1={left} x2={left + 5} y1={y(t)} y2={y(t)} stroke={AXIS} />
          <line x1={right} x2={right - 5} y1={y(t)} y2={y(t)} stroke={AXIS} />
        </g>
      ))}

      {/* tick labels */}
      {xTicks.map((t, i) => (
        <text key={'lx' + t} x={x(t)} y={bottom + 23} textAnchor="middle" fontFamily={FONT} fontSize={15} fill={AXIS}>
          {xTickLabels[i]}
        </text>
      ))}
      {yTicks.map((t, i) => (
        <text key={'ly' + t} x={left - 8} y={y(t) + 5} textAnchor="end" fontFamily={FONT} fontSize={15} fill={AXIS}>
          {yTickLabels[i]}
        </text>
      ))}

      {/* axis titles */}
      <text x={(left + right) / 2} y={H - 6} textAnchor="middle" fontFamily={FONT} fontSize={16.5} fill={AXIS}>
        Displacement [mm]
      </text>
      <text transform={`translate(24,${(top + bottom) / 2}) rotate(-90)`} textAnchor="middle" fontFamily={FONT} fontSize={16.5} fill={AXIS}>
        Force [KN]
      </text>
    </svg>
  );
}
